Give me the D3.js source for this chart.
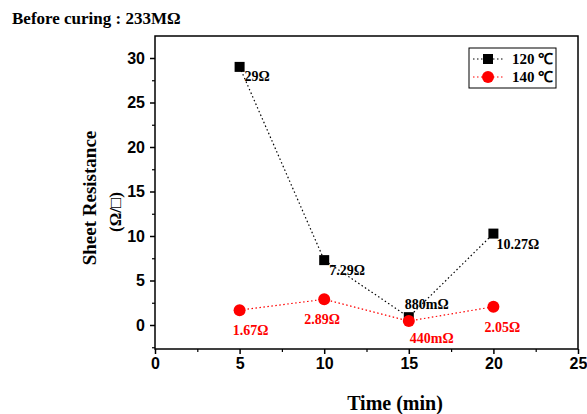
<!DOCTYPE html>
<html>
<head>
<meta charset="utf-8">
<script src="https://cdn.jsdelivr.net/npm/d3@7"></script>
<style>
  body { margin: 0; background: #fff; }
  svg { display: block; }
</style>
</head>
<body>
<div id="chart"></div>
<script>
const times = [5, 10, 15, 20];
const res120 = [29, 7.29, 0.88, 10.27];
const res140 = [1.67, 2.89, 0.44, 2.05];
const labels120 = ['29Ω', '7.29Ω', '880mΩ', '10.27Ω'];
const labels140 = ['1.67Ω', '2.89Ω', '440mΩ', '2.05Ω'];
const xTicks = [0, 5, 10, 15, 20, 25];
const yTicks = [0, 5, 10, 15, 20, 25, 30];

const W = 587, H = 414;
const plotLeft = 155, plotRight = 578, plotTop = 36, plotBottom = 349;

const svg = d3.select('#chart').append('svg')
    .attr('width', W).attr('height', H);

const x = d3.scaleLinear().domain([0, 25]).range([plotLeft, plotRight]);
const y = d3.scaleLinear().domain([0, 30]).range([325, 58]);

const serif = "'Liberation Serif', 'Times New Roman', serif";
const sans = "'Liberation Sans', Arial, sans-serif";

// frame
svg.append('rect')
    .attr('x', plotLeft).attr('y', plotTop)
    .attr('width', plotRight - plotLeft).attr('height', plotBottom - plotTop)
    .attr('fill', 'none').attr('stroke', '#000').attr('stroke-width', 1.5);

// x axis
const xAxis = svg.append('g')
    .attr('transform', `translate(0,${plotBottom})`)
    .call(d3.axisBottom(x).tickValues(xTicks).tickSize(5).tickPadding(4).tickFormat(d3.format('d')));
xAxis.select('.domain').remove();
xAxis.selectAll('line').attr('stroke-width', 1.5);
xAxis.selectAll('text').attr('font-family', sans).attr('font-weight', 'bold').attr('font-size', 16);
svg.append('g').attr('transform', `translate(0,${plotBottom})`)
    .call(d3.axisBottom(x).tickValues(d3.range(2.5, 25, 5)).tickSize(3).tickFormat(''))
    .call(g => g.select('.domain').remove())
    .selectAll('line').attr('stroke-width', 1.2);

// y axis
const yAxis = svg.append('g')
    .attr('transform', `translate(${plotLeft},0)`)
    .call(d3.axisLeft(y).tickValues(yTicks).tickSize(5).tickPadding(5).tickFormat(d3.format('d')));
yAxis.select('.domain').remove();
yAxis.selectAll('line').attr('stroke-width', 1.5);
yAxis.selectAll('text').attr('font-family', sans).attr('font-weight', 'bold').attr('font-size', 16);
svg.append('g').attr('transform', `translate(${plotLeft},0)`)
    .call(d3.axisLeft(y).tickValues([-2.5].concat(d3.range(2.5, 32, 5))).tickSize(3).tickFormat(''))
    .call(g => g.select('.domain').remove())
    .selectAll('line').attr('stroke-width', 1.2);

// titles
svg.append('text').attr('x', 12).attr('y', 24)
    .attr('font-family', serif).attr('font-weight', 'bold').attr('font-size', 17)
    .text('Before curing : 233MΩ');

svg.append('text').attr('x', 395).attr('y', 410)
    .attr('text-anchor', 'middle')
    .attr('font-family', serif).attr('font-weight', 'bold').attr('font-size', 20)
    .text('Time (min)');

svg.append('text')
    .attr('transform', 'translate(96,198) rotate(-90)')
    .attr('text-anchor', 'middle')
    .attr('font-family', serif).attr('font-weight', 'bold').attr('font-size', 19)
    .text('Sheet Resistance');
svg.append('text')
    .attr('transform', 'translate(121,212) rotate(-90)')
    .attr('text-anchor', 'middle')
    .attr('font-family', serif).attr('font-weight', 'bold').attr('font-size', 17)
    .text('(Ω/□)');

// series
const line = d3.line().x(d => x(d[0])).y(d => y(d[1]));
const s120 = times.map((t, i) => [t, res120[i]]);
const s140 = times.map((t, i) => [t, res140[i]]);

svg.append('path').datum(s140).attr('d', line)
    .attr('fill', 'none').attr('stroke', '#ff0000').attr('stroke-width', 1.2)
    .attr('stroke-dasharray', '1.5,2.5');
svg.append('path').datum(s120).attr('d', line)
    .attr('fill', 'none').attr('stroke', '#000').attr('stroke-width', 1.2)
    .attr('stroke-dasharray', '1.5,2.5');

svg.selectAll('.sq').data(s120).enter().append('rect')
    .attr('x', d => x(d[0]) - 5).attr('y', d => y(d[1]) - 5)
    .attr('width', 10).attr('height', 10).attr('fill', '#000');
svg.selectAll('.ci').data(s140).enter().append('circle')
    .attr('cx', d => x(d[0])).attr('cy', d => y(d[1])).attr('r', 6)
    .attr('fill', '#ff0000');

// data labels
const off120 = [[5, 14], [5, 15], [-4, -8], [3, 15]];
svg.selectAll('.l120').data(s120).enter().append('text')
    .attr('x', (d, i) => x(d[0]) + off120[i][0])
    .attr('y', (d, i) => y(d[1]) + off120[i][1])
    .attr('font-family', serif).attr('font-weight', 'bold').attr('font-size', 14)
    .text((d, i) => labels120[i]);

const off140 = [[11, 25], [-2, 25], [23, 22], [9, 25]];
svg.selectAll('.l140').data(s140).enter().append('text')
    .attr('x', (d, i) => x(d[0]) + off140[i][0])
    .attr('y', (d, i) => y(d[1]) + off140[i][1])
    .attr('text-anchor', 'middle')
    .attr('fill', '#ff0000')
    .attr('font-family', serif).attr('font-weight', 'bold').attr('font-size', 14)
    .text((d, i) => labels140[i]);

// legend
const lg = svg.append('g');
lg.append('rect').attr('x', 469).attr('y', 48).attr('width', 87).attr('height', 40)
    .attr('fill', '#fff').attr('stroke', '#000').attr('stroke-width', 1);
const legendItems = [
    { name: '120 ℃', color: '#000', shape: 'square', cy: 59 },
    { name: '140 ℃', color: '#ff0000', shape: 'circle', cy: 77 }
];
legendItems.forEach(it => {
    lg.append('line').attr('x1', 473).attr('x2', 503).attr('y1', it.cy).attr('y2', it.cy)
        .attr('stroke', it.color).attr('stroke-width', 1).attr('stroke-dasharray', '1.5,2.5');
    if (it.shape === 'square') {
        lg.append('rect').attr('x', 483).attr('y', it.cy - 5).attr('width', 10).attr('height', 10).attr('fill', it.color);
    } else {
        lg.append('circle').attr('cx', 488).attr('cy', it.cy).attr('r', 6).attr('fill', it.color);
    }
    lg.append('text').attr('x', 512).attr('y', it.cy + 5)
        .attr('font-family', serif).attr('font-weight', 'bold').attr('font-size', 15)
        .text(it.name);
});
</script>
</body>
</html>
